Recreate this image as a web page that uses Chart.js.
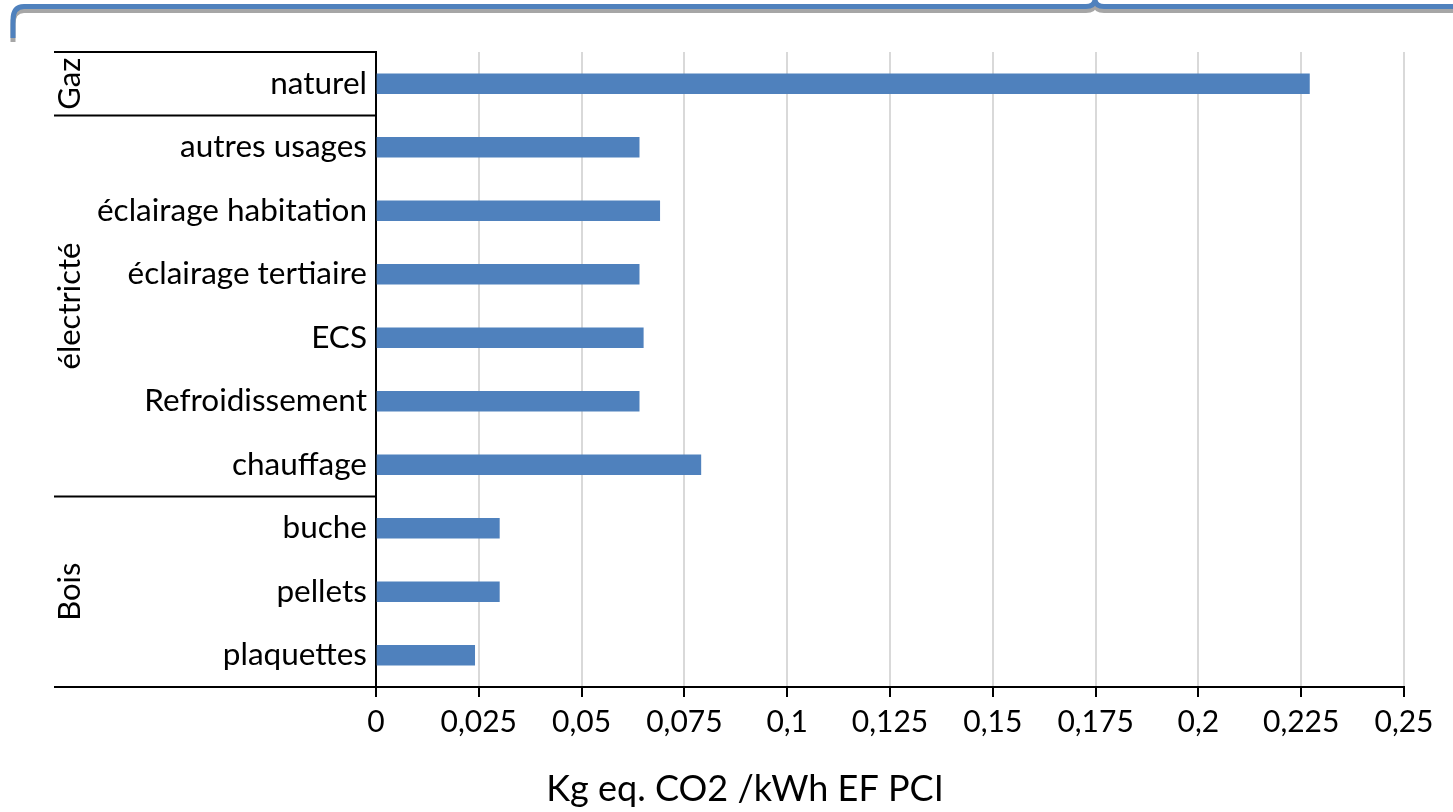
<!DOCTYPE html>
<html>
<head>
<meta charset="utf-8">
<script src="https://cdn.jsdelivr.net/npm/chart.js"></script>
<style>
  body { margin: 0; background: #fff; }
  canvas { display: block; }
</style>
</head>
<body>
<canvas id="myChart" width="1453" height="812"></canvas>
<script>
// categories, top to bottom
const categories = ['naturel', 'autres usages', 'éclairage habitation', 'éclairage tertiaire',
  'ECS', 'Refroidissement', 'chauffage', 'buche', 'pellets', 'plaquettes'];
const emissions = [0.227, 0.064, 0.069, 0.064, 0.065, 0.064, 0.079, 0.030, 0.030, 0.024];

// outer level of the category axis
const groups = ['Gaz', 'électricté', 'Bois'];
const groupSizes = [1, 6, 3];

const xTickLabels = ['0', '0,025', '0,05', '0,075', '0,1', '0,125', '0,15', '0,175', '0,2', '0,225', '0,25'];
const xTitle = 'Kg eq. CO2 /kWh EF PCI';

const FONT = 'Lato';

// group labels + separator lines on the left, axis title, blue brace on top
const groupAxis = {
  id: 'groupAxis',
  afterDraw(chart) {
    const ctx = chart.ctx;
    const y = chart.scales.y;
    const area = chart.chartArea;
    const leftX = 54;

    const bounds = [area.top];
    let idx = 0;
    groupSizes.forEach((n) => {
      idx += n;
      if (idx < categories.length) {
        bounds.push((y.getPixelForValue(idx - 1) + y.getPixelForValue(idx)) / 2);
      } else {
        bounds.push(area.bottom);
      }
    });

    ctx.save();
    ctx.strokeStyle = '#000';
    ctx.lineWidth = 2;
    bounds.forEach(b => {
      ctx.beginPath();
      ctx.moveTo(leftX, b);
      ctx.lineTo(area.left, b);
      ctx.stroke();
    });

    ctx.fillStyle = '#000';
    ctx.font = '31px ' + FONT;
    ctx.textAlign = 'center';
    ctx.textBaseline = 'middle';
    groups.forEach((name, g) => {
      const cy = (bounds[g] + bounds[g + 1]) / 2;
      ctx.save();
      ctx.translate(70, cy);
      ctx.rotate(-Math.PI / 2);
      ctx.fillText(name, 0, 0);
      ctx.restore();
    });

    // axis title (Excel centres it on the whole plot incl. the label column)
    ctx.font = '36px ' + FONT;
    ctx.fillText(xTitle, 745, 789);

    // brace at the top
    const brace = (dy, color) => {
      ctx.beginPath();
      ctx.moveTo(13, 38 + dy);
      ctx.lineTo(13, 20 + dy);
      ctx.quadraticCurveTo(13, 6.5 + dy, 24, 6.5 + dy);
      ctx.lineTo(1086, 6.5 + dy);
      ctx.quadraticCurveTo(1094, 6.5 + dy, 1095, 0 + dy);
      ctx.quadraticCurveTo(1096, 6.5 + dy, 1104, 6.5 + dy);
      ctx.lineTo(1453, 6.5 + dy);
      ctx.strokeStyle = color;
      ctx.lineWidth = 5;
      ctx.stroke();
    };
    brace(4, '#a6a6a6');
    brace(0, '#4f81bd');
    ctx.restore();
  }
};

new Chart(document.getElementById('myChart'), {
  type: 'bar',
  data: {
    labels: categories,
    datasets: [{
      data: emissions,
      backgroundColor: '#4f81bd',
      barThickness: 20,
    }],
  },
  options: {
    indexAxis: 'y',
    responsive: false,
    animation: false,
    layout: { padding: { top: 52, right: 49, left: 0, bottom: 0 } },
    plugins: {
      legend: { display: false },
      tooltip: { enabled: false },
    },
    scales: {
      x: {
        min: 0,
        max: 0.25,
        afterFit: (scale) => { scale.height = 125; },
        ticks: {
          stepSize: 0.025,
          color: '#000',
          padding: 7,
          font: { family: FONT, size: 30 },
          callback: (v, i) => xTickLabels[i],
        },
        grid: {
          color: (c) => c.tick && c.tick.value === 0 ? '#000' : '#d9d9d9',
          tickColor: '#000',
          lineWidth: 2,
          tickLength: 10,
        },
        border: { color: '#000', width: 2 },
      },
      y: {
        afterFit: (scale) => { scale.width = 376; },
        ticks: {
          color: '#000',
          padding: 9,
          font: { family: FONT, size: 31.5 },
        },
        grid: { display: false, drawTicks: false },
        border: { color: '#000', width: 2 },
      },
    },
  },
  plugins: [groupAxis],
});
</script>
</body>
</html>
